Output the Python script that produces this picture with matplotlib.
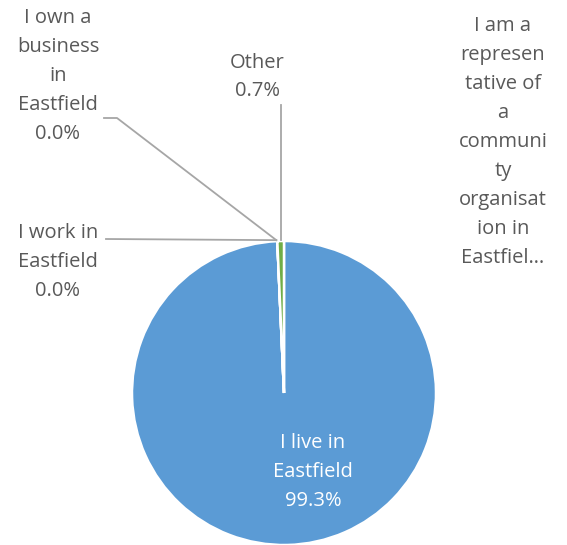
import numpy as np
import matplotlib
matplotlib.use('Agg')
import matplotlib.pyplot as plt

plt.rcParams['font.family'] = ['Open Sans', 'DejaVu Sans']

# data
categories = ['I live in Eastfield', 'I work in Eastfield', 'I own a business in Eastfield',
              'I am a representative of a community organisation in Eastfield', 'Other']
shares = [99.3, 0.0, 0.0, 0.0, 0.7]
colours = ['#5B9BD5', '#ED7D31', '#A5A5A5', '#FFC000', '#70AD47']

txt_col = '#595959'
line_col = '#A6A6A6'

fig = plt.figure(figsize=(5.67, 5.45), dpi=100)
ax = fig.add_axes([0, 0, 1, 1])

cx, cy, r = 284, 152, 152
wedges, _ = ax.pie(shares, colors=colours, startangle=90, counterclock=False,
                   center=(cx, cy), radius=r, frame=True,
                   wedgeprops=dict(edgecolor='white', linewidth=1.8))
ax.set_xlim(0, 567)
ax.set_ylim(0, 545)
ax.set_aspect('equal')
ax.axis('off')

fs = 14.5
ls = 1.6

# label inside the big slice
ax.text(313, 545 - 472, 'I live in\nEastfield\n99.3%', color='white', fontsize=fs,
        ha='center', va='center', linespacing=ls)

# anchor points at the top of the pie (edge of the tiny slices)
def rim(ang_deg):
    ang = np.deg2rad(ang_deg)
    return cx + r * np.cos(ang), cy + r * np.sin(ang)

p_work = rim(wedges[0].theta1)
p_other = rim((wedges[4].theta1 + wedges[4].theta2) / 2)

ax.text(58, 545 - 262, 'I work in\nEastfield\n0.0%', color=txt_col, fontsize=fs,
        ha='center', va='center', linespacing=ls)
ax.plot([106, p_work[0] - 1], [545 - 239, p_work[1] + 1], color=line_col, lw=1.3)

ax.text(58, 545 - 76, 'I own a\nbusiness\nin\nEastfield\n0.0%', color=txt_col, fontsize=fs,
        ha='center', va='center', linespacing=ls)
ax.plot([104, 117, p_work[0] - 1], [545 - 118, 545 - 118, p_work[1] + 1], color=line_col, lw=1.3)

ax.text(257, 545 - 77, 'Other\n0.7%', color=txt_col, fontsize=fs,
        ha='center', va='center', linespacing=ls)
ax.plot([p_other[0], p_other[0]], [545 - 105, p_other[1] + 1], color=line_col, lw=1.3)

ax.text(503, 545 - 142, 'I am a\nrepresen\ntative of\na\ncommuni\nty\norganisat\nion in\nEastfiel\u2026',
        color=txt_col, fontsize=fs, ha='center', va='center', linespacing=ls)

fig.savefig('out.png', dpi=100)
